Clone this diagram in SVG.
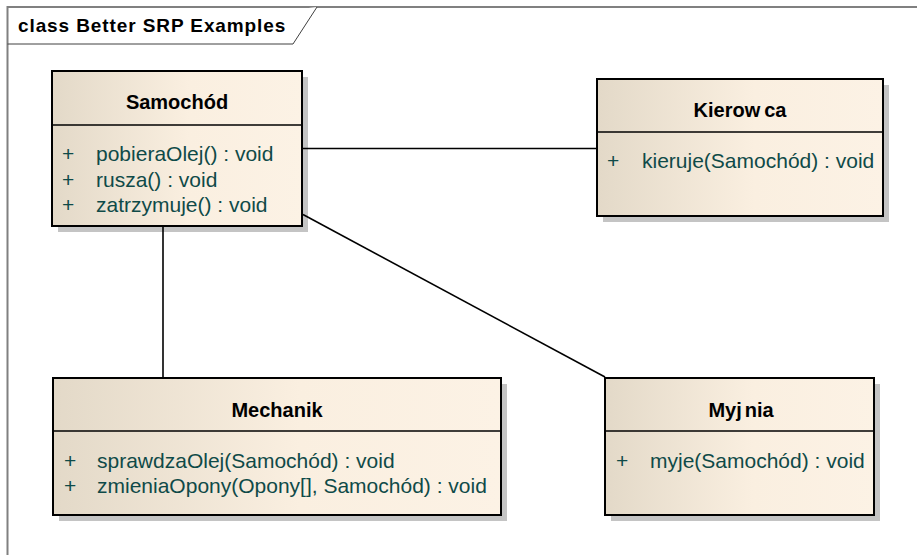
<svg xmlns="http://www.w3.org/2000/svg" width="917" height="555" viewBox="0 0 917 555">
<defs>
<linearGradient id="fill" x1="0" y1="0" x2="1" y2="0">
<stop offset="0" stop-color="#e3d9c8"/>
<stop offset="0.55" stop-color="#faefe0"/>
<stop offset="1" stop-color="#fcf2e5"/>
</linearGradient>
</defs>
<style>
.frame{fill:none;stroke:#808080;stroke-width:2}
.tab{fill:#ffffff;stroke:#404040;stroke-width:1}
.title{font-family:"Liberation Sans",Arial,sans-serif;font-weight:bold;font-size:19px;letter-spacing:0.9px;fill:#000}
.shadow{fill:#c4c4c4}
.box{fill:url(#fill);stroke:#000;stroke-width:2}
.div{stroke:#000;stroke-width:1.5}
.name{font-family:"Liberation Sans",Arial,sans-serif;font-weight:bold;font-size:20px;fill:#000;text-anchor:middle}
.op{font-family:"Liberation Sans",Arial,sans-serif;font-size:21px;fill:#0f4a48}
.conn{stroke:#000;stroke-width:1.6;fill:none}
</style>
<rect width="917" height="555" fill="#ffffff"/>
<g id="frame">
<path class="frame" d="M7.5,555 V7 H917"/>
<path class="tab" d="M7.5,44 H293 L317,7"/>
<text class="title" x="18" y="32">class Better SRP Examples</text>
</g>
<g id="Samochod">
<rect class="shadow" x="58" y="77" width="250" height="155"/>
<rect class="box" x="52" y="71" width="250" height="155"/>
<line class="div" x1="52" y1="125" x2="302" y2="125"/>
<text class="name" x="177" y="109">Samochód</text>
<text class="op" x="62" y="161">+</text><text class="op" x="96" y="161">pobieraOlej() : void</text>
<text class="op" x="62" y="187">+</text><text class="op" x="96" y="187">rusza() : void</text>
<text class="op" x="62" y="212">+</text><text class="op" x="96" y="212">zatrzymuje() : void</text>
</g>
<g id="Kierowca">
<rect class="shadow" x="603" y="85" width="286" height="137"/>
<rect class="box" x="597" y="79" width="286" height="137"/>
<line class="div" x1="597" y1="132" x2="883" y2="132"/>
<text class="name" x="740" y="117">Kierow<tspan dx="4">ca</tspan></text>
<text class="op" x="607" y="168">+</text><text class="op" x="642" y="168">kieruje(Samochód) : void</text>
</g>
<g id="Mechanik">
<rect class="shadow" x="59" y="384" width="448" height="137"/>
<rect class="box" x="53" y="378" width="448" height="137"/>
<line class="div" x1="53" y1="431" x2="501" y2="431"/>
<text class="name" x="277" y="417">Mechanik</text>
<text class="op" x="64" y="468">+</text><text class="op" x="97" y="468">sprawdzaOlej(Samochód) : void</text>
<text class="op" x="64" y="493">+</text><text class="op" x="97" y="493">zmieniaOpony(Opony[], Samochód) : void</text>
</g>
<g id="Myjnia">
<rect class="shadow" x="611" y="384" width="269" height="137"/>
<rect class="box" x="605" y="378" width="269" height="137"/>
<line class="div" x1="605" y1="431" x2="874" y2="431"/>
<text class="name" x="741" y="417">Myj<tspan dx="3">nia</tspan></text>
<text class="op" x="616" y="468">+</text><text class="op" x="650" y="468">myje(Samochód) : void</text>
</g>
<g id="connectors">
<line class="conn" x1="303" y1="148.5" x2="596" y2="148.5"/>
<line class="conn" x1="303" y1="214.5" x2="605" y2="377"/>
<line class="conn" x1="163" y1="227" x2="163" y2="377"/>
</g>
</svg>
